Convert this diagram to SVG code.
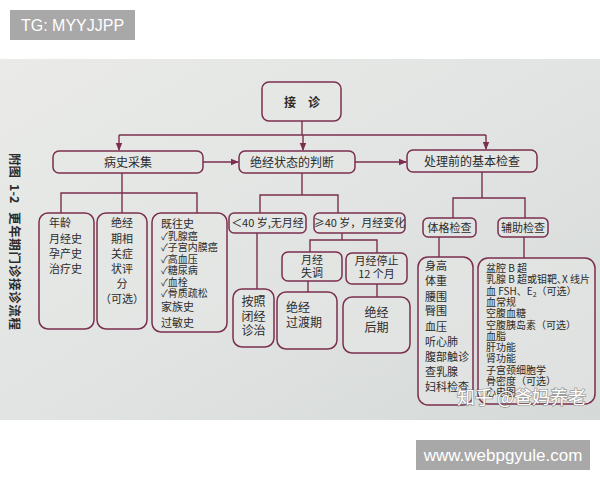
<svg xmlns="http://www.w3.org/2000/svg" width="600" height="480" viewBox="0 0 600 480">
<defs>
<linearGradient id="bg" x1="0" y1="0" x2="1" y2="1">
<stop offset="0" stop-color="#eaebe9"/>
<stop offset="0.5" stop-color="#e1e4e2"/>
<stop offset="1" stop-color="#d5d9d7"/>
</linearGradient>
<marker id="arr" viewBox="0 0 8 8" refX="7" refY="4" markerWidth="6" markerHeight="6" orient="auto">
<path d="M0,0.8 L8,4 L0,7.2 Z" fill="#7b2f4f"/>
</marker>
<style>
.b{fill:#e6e8e6;fill-opacity:0.55;stroke:#7b2f4f;stroke-width:1.5}
.c{fill:none;stroke:#7b2f4f;stroke-width:1.4}
.t{font-family:"Noto Sans CJK SC","Liberation Serif",serif;fill:#2b2b2b;font-size:12px}
.m{text-anchor:middle}
.s{font-size:11px}
.x{font-size:10px}
.cap{font-family:"Noto Sans CJK SC",sans-serif;font-weight:bold;font-size:12.5px;fill:#2b2b2b}
.l{font-family:"Liberation Sans",Arial,sans-serif;fill:#ffffff}
.w{font-family:"Noto Sans CJK SC",sans-serif;font-size:18px;fill:#ffffff;stroke:#5a5a5a;stroke-opacity:0.5;stroke-width:1.6;paint-order:stroke}
</style>
</defs>
<rect width="600" height="480" fill="#ffffff"/>
<rect x="0" y="59" width="600" height="361" fill="url(#bg)"/>
<g id="tg"><rect x="10" y="10" width="125" height="30" fill="#a8a8a8"/><text class="l" x="72.5" y="31" font-size="16" text-anchor="middle">TG: MYYJJPP</text></g>
<g id="www"><rect x="416" y="440" width="174" height="30" fill="#a8a8a8"/><text class="l" x="503" y="461" font-size="17" text-anchor="middle">www.webpgyule.com</text></g>
<g id="caption">
<text class="cap" transform="translate(10,153) rotate(90)">附图</text>
<text class="cap" transform="translate(10,184) rotate(90)">1-2</text>
<text class="cap" transform="translate(10,212) rotate(90)" textLength="118" lengthAdjust="spacing">更年期门诊接诊流程</text>
</g>
<g id="connectors">
<path class="c" d="M302,121 V135"/>
<path class="c" d="M119,135 H486"/>
<path class="c" d="M119,135 V150" marker-end="url(#arr)"/>
<path class="c" d="M303,135 V150" marker-end="url(#arr)"/>
<path class="c" d="M486,135 V149" marker-end="url(#arr)"/>
<path class="c" d="M203,162 H238" marker-end="url(#arr)"/>
<path class="c" d="M355,162 H406" marker-end="url(#arr)"/>
<path class="c" d="M122,173 V193 M61,213 V193 H197 V213 M122,193 V213"/>
<path class="c" d="M302,173 V195 M260,213 V195 H338 V213"/>
<path class="c" d="M257,233 V289"/>
<path class="c" d="M342,233 V240 M310,252 V240 H377 V253"/>
<path class="c" d="M308,281 V292 M377,284 V297"/>
<path class="c" d="M482,172 V198 M453,218 V198 H525 V218"/>
<path class="c" d="M439,237 V257 M524,237 V258"/>
</g>
<g id="n-jiezhen"><rect class="b" x="262" y="82" width="79" height="39" rx="7"/><text class="t m" x="302" y="107" font-size="14" font-weight="bold">接　诊</text></g>
<g id="n-bingshi"><rect class="b" x="53" y="151" width="150" height="22" rx="6"/><text class="t m" x="128" y="166.5" font-size="12.5">病史采集</text></g>
<g id="n-juejing"><rect class="b" x="239" y="151" width="116" height="22" rx="6"/><text class="t m" x="292" y="166.5">绝经状态的判断</text></g>
<g id="n-chuli"><rect class="b" x="407" y="150" width="130" height="22" rx="6"/><text class="t m" x="472" y="165.5">处理前的基本检查</text></g>
<g id="n-nianling"><rect class="b" x="39" y="213" width="55" height="116" rx="9"/>
<text class="t s" x="49" y="227">年龄</text><text class="t s" x="49" y="243">月经史</text><text class="t s" x="49" y="258">孕产史</text><text class="t s" x="49" y="273">治疗史</text></g>
<g id="n-pingfen"><rect class="b" x="97" y="213" width="50" height="116" rx="9"/>
<text class="t s m" x="122" y="227">绝经</text><text class="t s m" x="122" y="243">期相</text><text class="t s m" x="122" y="258">关症</text><text class="t s m" x="122" y="273">状评</text><text class="t s m" x="122" y="288">分</text><text class="t s m" x="122" y="303">（可选）</text></g>
<g id="n-jiwang"><rect class="b" x="152" y="213" width="75" height="119" rx="9"/>
<text class="t s" x="161" y="228">既往史</text>
<text class="t x" x="161" y="239.5">✓乳腺癌</text>
<text class="t x" x="161" y="251">✓子宫内膜癌</text>
<text class="t x" x="161" y="262.5">✓高血压</text>
<text class="t x" x="161" y="274">✓糖尿病</text>
<text class="t x" x="161" y="285.5">✓血栓</text>
<text class="t x" x="161" y="297">✓骨质疏松</text>
<text class="t s" x="161" y="311">家族史</text>
<text class="t s" x="161" y="327">过敏史</text></g>
<g id="n-lt40"><rect class="b" x="229" y="213" width="77" height="20" rx="5"/><text class="t s m" x="267.5" y="227">＜40 岁,无月经</text></g>
<g id="n-ge40"><rect class="b" x="314" y="213" width="91" height="20" rx="5"/><text class="t s m" x="359.5" y="227">≥40 岁，月经变化</text></g>
<g id="n-anzhao"><rect class="b" x="233" y="289" width="41" height="58" rx="9"/>
<text class="t m" x="253.5" y="306">按照</text><text class="t m" x="253.5" y="321">闭经</text><text class="t m" x="253.5" y="335">诊治</text></g>
<g id="n-shitiao"><rect class="b" x="282" y="252" width="60" height="29" rx="6"/>
<text class="t s m" x="312" y="264">月经</text><text class="t s m" x="312" y="277">失调</text></g>
<g id="n-tingzhi"><rect class="b" x="346" y="253" width="61" height="31" rx="6"/>
<text class="t s m" x="376.5" y="265">月经停止</text><text class="t s m" x="376.5" y="278">12 个月</text></g>
<g id="n-guodu"><rect class="b" x="277" y="292" width="60" height="57" rx="9"/>
<text class="t" x="286" y="312">绝经</text><text class="t" x="286" y="327">过渡期</text></g>
<g id="n-houqi"><rect class="b" x="343" y="297" width="67" height="56" rx="9"/>
<text class="t m" x="376.5" y="317">绝经</text><text class="t m" x="376.5" y="332">后期</text></g>
<g id="n-tige"><rect class="b" x="423" y="218" width="53" height="19" rx="5"/><text class="t s m" x="449.5" y="231.5">体格检查</text></g>
<g id="n-fuzhu"><rect class="b" x="498" y="218" width="50" height="19" rx="5"/><text class="t s m" x="523" y="231.5">辅助检查</text></g>
<g id="n-tigelist"><rect class="b" x="418" y="257" width="55" height="148" rx="10"/>
<text class="t s" x="425" y="270">身高</text><text class="t s" x="425" y="285">体重</text><text class="t s" x="425" y="301">腰围</text><text class="t s" x="425" y="315">臀围</text><text class="t s" x="425" y="331">血压</text><text class="t s" x="425" y="346">听心肺</text><text class="t s" x="425" y="361">腹部触诊</text><text class="t s" x="425" y="376">查乳腺</text><text class="t s" x="425" y="391">妇科检查</text></g>
<g id="n-fuzhulist"><rect class="b" x="478" y="258" width="117" height="146" rx="10"/>
<text class="t x" x="486" y="272">盆腔 B 超</text>
<text class="t x" x="486" y="283.3">乳腺 B 超或钼靶､X 线片</text>
<text class="t x" x="486" y="294.6">血 FSH、E<tspan font-size="7" dy="2">2</tspan><tspan dy="-2">（可选）</tspan></text>
<text class="t x" x="486" y="305.9">血常规</text>
<text class="t x" x="486" y="317.2">空腹血糖</text>
<text class="t x" x="486" y="328.5">空腹胰岛素（可选）</text>
<text class="t x" x="486" y="339.8">血脂</text>
<text class="t x" x="486" y="351.1">肝功能</text>
<text class="t x" x="486" y="362.4">肾功能</text>
<text class="t x" x="486" y="373.7">子宫颈细胞学</text>
<text class="t x" x="486" y="385">骨密度（可选）</text>
<text class="t x" x="486" y="396.3">心电图</text>
</g>
<g id="watermark">
<text class="w" x="457" y="404">知乎 @爸妈养老</text>
</g>
</svg>
